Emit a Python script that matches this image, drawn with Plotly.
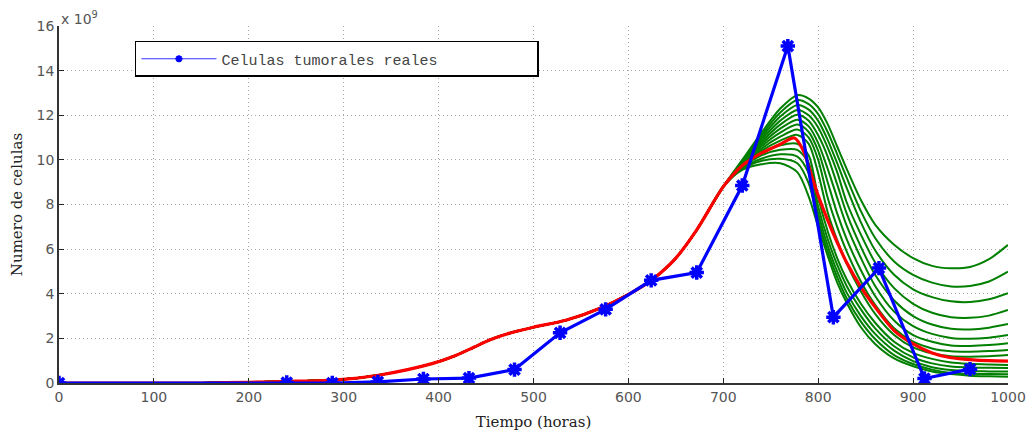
import plotly.graph_objects as go

# ---------------- data ----------------
# observed tumour cells (x 1e9)
t_obs = [0, 240, 288, 336, 384, 432, 480, 528, 576, 624, 672, 720, 768, 816, 864, 912, 960]
v_obs = [0.0, 0.02, 0.0, 0.05, 0.18, 0.22, 0.6, 2.25, 3.3, 4.6, 4.95, 8.85, 15.1, 2.95, 5.15, 0.2, 0.62]

# shared model trajectory (common to all simulations up to t=700)
t_pre = [0, 100, 150, 200, 250, 289, 338, 394, 416, 437, 455, 472, 500, 535, 570, 602, 624, 650, 672, 700]
v_pre = [0.0, 0.0, 0.0, 0.03, 0.08, 0.13, 0.36, 0.88, 1.2, 1.6, 1.95, 2.2, 2.5, 2.82, 3.35, 4.02, 4.6, 5.6, 6.86, 8.8]

# red (fitted) model after t=700
t_red = [720, 730, 740, 760, 775, 785, 790, 800, 810, 820, 830, 845, 860, 880, 900, 920, 940, 960, 980, 1000]
v_red = [9.75, 10.05, 10.3, 10.7, 10.98, 10.35, 9.7, 8.4, 7.3, 6.3, 5.4, 4.3, 3.4, 2.35, 1.75, 1.35, 1.13, 1.05, 1.0, 0.98]

# green simulations after t=700
t_sim = [720, 740, 760, 778, 790, 800, 810, 820, 830, 845, 860, 880, 900, 920, 940, 960, 980, 1000]
sim_00 = [10.0, 11.2, 12.3, 12.9, 12.75, 12.35, 11.6, 10.6, 9.6, 8.2, 7.1, 6.2, 5.6, 5.25, 5.14, 5.2, 5.55, 6.19]
sim_01 = [9.97, 11.1, 12.12, 12.68, 12.5, 12.05, 11.25, 10.25, 9.2, 7.7, 6.5, 5.45, 4.85, 4.5, 4.33, 4.35, 4.55, 4.99]
sim_02 = [9.93, 11.0, 11.94, 12.46, 12.25, 11.75, 10.9, 9.85, 8.75, 7.2, 5.95, 4.85, 4.2, 3.85, 3.66, 3.63, 3.75, 4.02]
sim_03 = [9.9, 10.9, 11.76, 12.24, 12.0, 11.45, 10.55, 9.45, 8.1, 6.65, 5.4, 4.25, 3.55, 3.15, 2.95, 2.92, 3.02, 3.27]
sim_04 = [9.87, 10.8, 11.58, 12.02, 11.75, 11.1, 10.15, 8.9, 7.6, 6.1, 4.85, 3.7, 3.0, 2.62, 2.43, 2.4, 2.48, 2.64]
sim_05 = [9.83, 10.7, 11.4, 11.8, 11.5, 10.75, 9.6, 8.3, 7.05, 5.6, 4.35, 3.2, 2.55, 2.2, 2.02, 1.98, 2.03, 2.15]
sim_06 = [9.8, 10.6, 11.22, 11.58, 11.25, 10.4, 9.0, 7.6, 6.45, 5.05, 3.9, 2.8, 2.15, 1.85, 1.68, 1.66, 1.7, 1.78]
sim_07 = [9.77, 10.5, 11.04, 11.36, 11.0, 10.0, 8.3, 7.0, 5.9, 4.55, 3.5, 2.45, 1.85, 1.55, 1.42, 1.4, 1.43, 1.48]
sim_08 = [9.73, 10.4, 10.86, 11.12, 10.72, 9.4, 7.65, 6.4, 5.35, 4.1, 3.1, 2.15, 1.6, 1.33, 1.2, 1.18, 1.2, 1.25]
sim_09 = [9.7, 10.3, 10.65, 10.72, 10.2, 8.3, 6.8, 5.6, 4.65, 3.55, 2.7, 1.85, 1.35, 1.08, 0.92, 0.86, 0.83, 0.81]
sim_10 = [9.67, 10.2, 10.45, 10.45, 9.85, 7.9, 6.45, 5.3, 4.35, 3.3, 2.45, 1.65, 1.15, 0.88, 0.74, 0.7, 0.68, 0.67]
sim_11 = [9.63, 10.05, 10.25, 10.15, 9.4, 7.6, 6.15, 5.0, 4.05, 3.0, 2.2, 1.45, 0.98, 0.71, 0.58, 0.53, 0.52, 0.51]
sim_12 = [9.6, 9.95, 10.05, 9.85, 8.95, 7.3, 5.9, 4.75, 3.8, 2.75, 1.97, 1.25, 0.85, 0.6, 0.45, 0.41, 0.4, 0.39]
sim_13 = [9.55, 9.8, 9.85, 9.45, 8.35, 7.0, 5.7, 4.5, 3.6, 2.5, 1.75, 1.1, 0.75, 0.52, 0.4, 0.33, 0.3, 0.28]
simulations = [sim_00, sim_01, sim_02, sim_03, sim_04, sim_05, sim_06, sim_07,
               sim_08, sim_09, sim_10, sim_11, sim_12, sim_13]

x_ticks = [0, 100, 200, 300, 400, 500, 600, 700, 800, 900, 1000]
y_ticks = [0, 2, 4, 6, 8, 10, 12, 14, 16]
legend_label = "Celulas tumorales reales"

# ---------------- figure ----------------
fig = go.Figure()
for sim in simulations:
    fig.add_trace(go.Scatter(
        x=t_pre + t_sim, y=v_pre + sim, mode="lines",
        line=dict(color="#007F00", width=2, shape="spline", smoothing=0.8),
        showlegend=False, hoverinfo="skip"))

fig.add_trace(go.Scatter(
    x=t_pre + t_red, y=v_pre + v_red, mode="lines",
    line=dict(color="#FF0000", width=3.2, shape="spline", smoothing=0.8),
    showlegend=False))

fig.add_trace(go.Scatter(
    x=t_obs, y=v_obs, mode="lines+markers", name=legend_label, showlegend=False,
    line=dict(color="#0000FF", width=3.2),
    marker=dict(symbol="asterisk-open", size=12, color="#0000FF",
                line=dict(color="#0000FF", width=3.5))))

# legend entry (thin line, small marker, as in the reference)
fig.add_trace(go.Scatter(
    x=[None], y=[None], mode="lines+markers", name=legend_label,
    line=dict(color="#3333FF", width=1.2),
    marker=dict(symbol="asterisk-open", size=6, color="#0000FF",
                line=dict(color="#0000FF", width=2))))

axis_common = dict(
    showline=True, linecolor="#333", linewidth=1.5,
    ticks="inside", ticklen=5, tickcolor="#222", tickwidth=1,
    showgrid=True, gridcolor="#a8a8a8", griddash="1px,3px", gridwidth=1,
    zeroline=False, mirror=False, automargin=False,
    tickfont=dict(family="DejaVu Sans", size=14, color="#555"),
)

fig.update_xaxes(range=[0, 1000], tickvals=x_ticks, ticktext=[str(v) for v in x_ticks],
                 title=dict(text="Tiempo (horas)", font=dict(family="DejaVu Serif", size=15, color="#222"),
                            standoff=13),
                 **axis_common)
fig.update_yaxes(range=[0, 16], tickvals=y_ticks, ticktext=[str(v) for v in y_ticks],
                 title=dict(text="Numero de celulas", font=dict(family="DejaVu Serif", size=15, color="#222"),
                            standoff=10),
                 **axis_common)

fig.add_annotation(xref="paper", yref="paper", x=0, y=1, xanchor="left", yanchor="bottom",
                   text="x 10<sup>9</sup>", showarrow=False, yshift=-3,
                   font=dict(family="DejaVu Sans", size=14, color="#555"))

fig.update_layout(
    width=1033, height=432,
    margin=dict(l=59, r=25, t=26, b=49, autoexpand=False),
    plot_bgcolor="white", paper_bgcolor="white",
    legend=dict(x=0.08, y=0.958, xanchor="left", yanchor="top", orientation="h",
                bgcolor="white", bordercolor="black", borderwidth=1.5,
                font=dict(family="Liberation Mono", size=15, color="#444"),
                itemwidth=75, entrywidth=311, entrywidthmode="pixels",
                tracegroupgap=0),
)

fig.write_html("out.html")
